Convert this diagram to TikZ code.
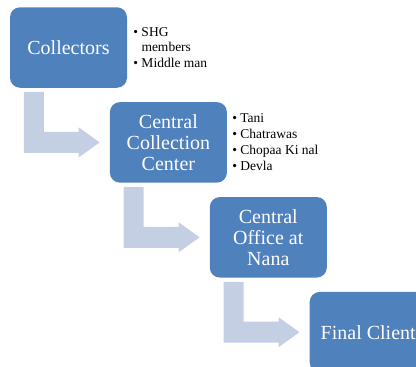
\documentclass[tikz,border=0pt]{standalone}
\usepackage{fontspec}
\setmainfont{Liberation Serif}
\newfontfamily\timesfont{Liberation Serif}
\usetikzlibrary{positioning,calc}
\definecolor{boxblue}{RGB}{79,129,189}
\definecolor{flowgray}{RGB}{197,207,227}

\begin{document}
\begin{tikzpicture}[x=1pt,y=-1pt,
  box/.style={fill=boxblue,rounded corners=10pt,minimum width=117pt,minimum height=80.5pt,text=white,align=center,inner sep=2pt,font=\timesfont\fontsize{20}{21}\selectfont},
  items/.style={anchor=north west,align=left,inner sep=0pt,font=\timesfont\fontsize{13.5}{16}\selectfont},
  flow/.style={fill=flowgray},
  node distance=14pt and -17.5pt]
\path[use as bounding box,clip] (0,0) rectangle (416,367);
\node[box] (a) at (68.5,47.5) {Collectors};
\node[box,below right=of a] (b) {Central\\Collection\\Center};
\node[box,below right=of b] (c) {Central\\Office at\\Nana};
\node[box,below right=of c] (d) {Final Client};
\node[items] (al) at ($(a.north east)+(6,20)$) {\textbullet~SHG\\[-1pt]\phantom{\textbullet~}members\\\textbullet~Middle man};
\node[items] (bl) at ($(b.north east)+(5,11)$) {\textbullet~Tani\\\textbullet~Chatrawas\\\textbullet~Chopaa Ki nal\\\textbullet~Devla};
\foreach \s/\t in {a/b,b/c,c/d}{
  \path ($(\s.south west)+(14,4)$) coordinate (p) ($(\t.west)+(-10,0)$) coordinate (q);
  \fill[flow] (p) -- ++(20,0) |- ($(q)+(-21,-10.5)$) -- ++(0,-4.5) -- (q) -- ++(-21,15) -- ++(0,-4.5) -| (p) -- cycle;
}
\end{tikzpicture}
\end{document}
